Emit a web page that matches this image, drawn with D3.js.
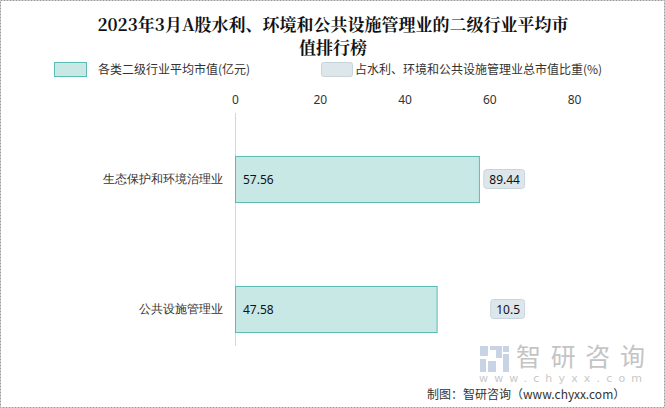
<!DOCTYPE html>
<html><head><meta charset="utf-8">
<script src="https://cdn.jsdelivr.net/npm/d3@7/dist/d3.min.js"></script>
<style>
body{margin:0;padding:0;background:#fff;}
svg{display:block;font-family:"Noto Sans CJK SC","Noto Sans",sans-serif;}
</style></head>
<body>
<svg id="chart" width="665" height="408"></svg>
<script>
const categories = ["生态保护和环境治理业", "公共设施管理业"];
const avgValues = [57.56, 47.58];
const shareValues = [89.44, 10.5];
const xTicks = [0, 20, 40, 60, 80];
const titleLines = ["2023年3月A股水利、环境和公共设施管理业的二级行业平均市", "值排行榜"];
const legendLabels = ["各类二级行业平均市值(亿元)", "占水利、环境和公共设施管理业总市值比重(%)"];

const svg = d3.select("#chart");
const W = 665, H = 408;

svg.append("rect").attr("x",0.5).attr("y",0.5).attr("width",W-1).attr("height",H-1)
  .attr("fill","#fff").attr("stroke","#999").attr("stroke-dasharray","2,1");

// title
svg.append("g").selectAll("text").data(titleLines).join("text")
  .attr("x", 333).attr("y", (d,i)=>31+i*23)
  .attr("text-anchor","middle").attr("font-size","17px").attr("font-weight","bold")
  .attr("font-family","'Noto Serif CJK SC','Noto Sans CJK SC',serif")
  .attr("fill","#111").text(d=>d);

// legend
const lg = svg.append("g");
lg.append("rect").attr("x",54.5).attr("y",62.5).attr("width",32).attr("height",14)
  .attr("fill","#c8e8e6").attr("stroke","#5bbcb4");
lg.append("text").attr("x",98).attr("y",74).attr("font-size","12px").attr("fill","#333").text(legendLabels[0]);
lg.append("rect").attr("x",321.5).attr("y",62.5).attr("width",31).attr("height",14).attr("rx",2)
  .attr("fill","#dde6ea").attr("stroke","#c8d4dc");
lg.append("text").attr("x",355).attr("y",74).attr("font-size","12px").attr("fill","#333").text(legendLabels[1]);

// scales
const x = d3.scaleLinear().domain([0,80]).range([235,574]);
const y = d3.scaleBand().domain(categories).range([114,374]).paddingInner(0.646).paddingOuter(0.323);

// top axis labels
const xAxis = d3.axisTop(x).tickValues(xTicks).tickSize(0).tickPadding(0);
const ax = svg.append("g").attr("transform","translate(0,104)").call(xAxis);
ax.select(".domain").remove();
ax.selectAll("text").attr("font-size","12px").attr("fill","#333")
  .attr("font-family","'Noto Sans','Noto Sans CJK SC',sans-serif");

// vertical axis line
svg.append("line").attr("x1",235.5).attr("x2",235.5).attr("y1",113).attr("y2",346)
  .attr("stroke","#d6d6d6");

// category labels
const yAxis = d3.axisLeft(y).tickSize(0).tickPadding(12);
const ay = svg.append("g").attr("transform","translate(235,0)").call(yAxis);
ay.select(".domain").remove();
ay.selectAll("text").attr("font-size","12px").attr("fill","#333");

// bars
svg.append("g").selectAll("rect").data(categories).join("rect")
  .attr("x", x(0)+0.5).attr("y", d=>y(d)+0.5)
  .attr("width", (d,i)=>x(avgValues[i])-x(0)).attr("height", y.bandwidth())
  .attr("fill","#c8e8e6").attr("stroke","#5bbcb4");

svg.append("g").selectAll("text").data(categories).join("text")
  .attr("x", 243).attr("y", d=>y(d)+y.bandwidth()/2+4.5)
  .attr("font-size","12px").attr("fill","#111")
  .attr("font-family","'Noto Sans','Noto Sans CJK SC',sans-serif")
  .text((d,i)=>avgValues[i]);

// share labels (boxes right aligned)
const sg = svg.append("g");
categories.forEach((c,i)=>{
  const t = sg.append("text").attr("x",520).attr("y", y(c)+y.bandwidth()/2+4.5)
    .attr("text-anchor","end").attr("font-size","12px").attr("fill","#111")
    .attr("font-family","'Noto Sans','Noto Sans CJK SC',sans-serif")
    .text(shareValues[i]);
  const bb = t.node().getBBox();
  sg.insert("rect","text").attr("x",bb.x-5.5).attr("y",y(c)+y.bandwidth()/2-9.5)
    .attr("width",bb.width+10).attr("height",19).attr("rx",3)
    .attr("fill","#dde6ea").attr("stroke","#c8d4dc");
});

// watermark
const wm = svg.append("g");
const lc = "#c8d4e6";
[[480,346,8,10],[490,346,12,4],[496,350,6,8],[480,359,6,13],[488,361,8,11],[503,346,6,6],[503,354,6,18]].forEach(r=>{
  wm.append("rect").attr("x",r[0]).attr("y",r[1]).attr("width",r[2]).attr("height",r[3]).attr("fill",lc);
});
wm.append("text").attr("x",516).attr("y",366).attr("font-size","25px").attr("fill","#c4c4c4")
  .attr("textLength",129).text("智研咨询");
wm.append("text").attr("x",479).attr("y",382).attr("font-size","11px").attr("fill","#c8c8c8")
  .attr("textLength",163).attr("font-family","'DejaVu Sans',sans-serif").text("www.chyxx.com");
svg.append("text").attr("x",427).attr("y",399).attr("font-size","12px").attr("fill","#333")
  .text("制图：智研咨询（www.chyxx.com）");
</script>
</body></html>
